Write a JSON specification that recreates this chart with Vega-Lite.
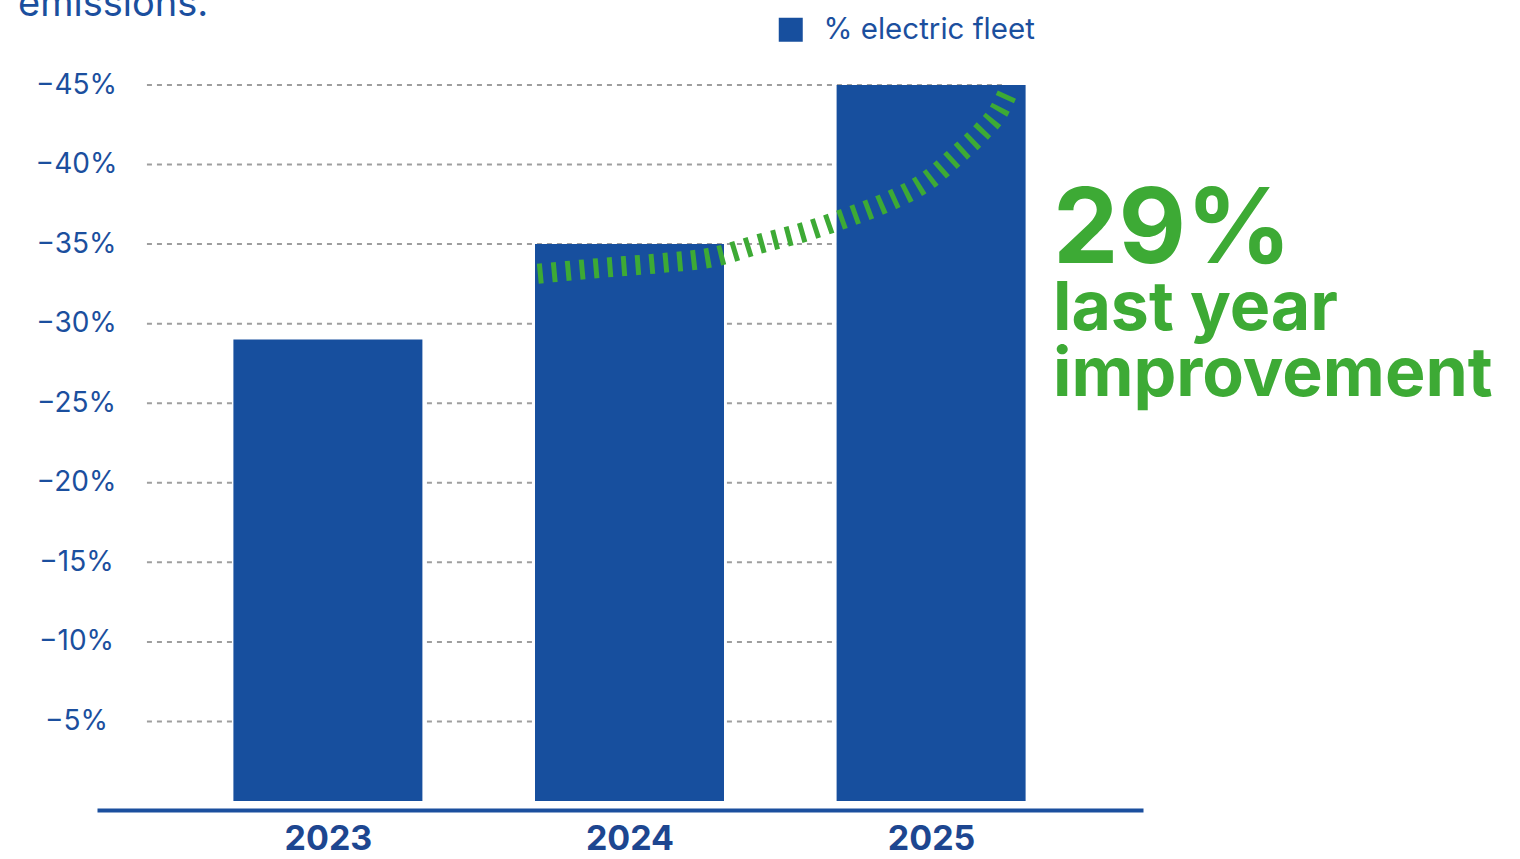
{
  "$schema": "https://vega.github.io/schema/vega-lite/v6.json",
  "autosize": "none",
  "width": 1046,
  "height": 716,
  "padding": {"left": 97, "top": 85, "right": 377, "bottom": 58},
  "background": "white",
  "title": {"text": "emissions.", "anchor": "start", "frame": "group", "fontSize": 38, "fontWeight": "normal", "font": "Inter", "color": "#1b4f9e", "dx": -79, "dy": 13},
  "config": {"view": {"stroke": null}, "font": "Inter"},
  "datasets": {
    "bars": [{"year": 2023, "value": 29}, {"year": 2024, "value": 35}, {"year": 2025, "value": 45}],
    "grid": [{"v": 5}, {"v": 10}, {"v": 15}, {"v": 20}, {"v": 25}, {"v": 30}, {"v": 35}, {"v": 40}, {"v": 45}],
    "arrow": [
      {"x": 2023.696, "y": 33.14}, {"x": 2023.903, "y": 33.5}, {"x": 2024.1, "y": 33.8}, {"x": 2024.281, "y": 34.2},
      {"x": 2024.428, "y": 35.0}, {"x": 2024.593, "y": 35.84}, {"x": 2024.724, "y": 36.69}, {"x": 2024.855, "y": 37.65},
      {"x": 2024.987, "y": 38.98}, {"x": 2025.085, "y": 40.57}, {"x": 2025.167, "y": 42.05}, {"x": 2025.226, "y": 43.41},
      {"x": 2025.256, "y": 44.6}
    ],
    "big": [{"t": "29%"}],
    "sub": [{"t": "last year\nimprovement"}]
  },
  "layer": [
    {
      "data": {"name": "grid"},
      "mark": {"type": "rule", "color": "#9e9e9e", "strokeWidth": 2, "strokeDash": [5, 5]},
      "encoding": {
        "y": {"field": "v", "type": "quantitative", "scale": {"domain": [0, 45], "nice": false, "zero": true},
          "axis": {"values": [5, 10, 15, 20, 25, 30, 35, 40, 45], "labelExpr": "'−' + datum.value + '%'", "title": null,
            "grid": false, "ticks": false, "domain": false, "labelFontSize": 28, "labelColor": "#1b4f9e",
            "labelAlign": "center", "labelPadding": 21, "labelFont": "Inter"}},
        "x": {"datum": 2022.4, "type": "quantitative", "scale": {"domain": [2022.251, 2025.686], "nice": false, "zero": false},
          "axis": {"values": [2023, 2024, 2025], "format": "d", "title": null, "grid": false, "ticks": false,
            "domain": true, "domainColor": "#1b4f9e", "domainWidth": 4, "offset": 9,
            "labelFontSize": 34, "labelFontWeight": "bold", "labelColor": "#1d4690", "labelPadding": 12, "labelFont": "Inter"}},
        "x2": {"datum": 2025.25}
      }
    },
    {
      "data": {"name": "bars"},
      "mark": {"type": "bar", "orient": "vertical", "width": 189},
      "encoding": {
        "x": {"field": "year", "type": "quantitative"},
        "y": {"field": "value", "type": "quantitative"},
        "color": {"datum": "% electric fleet", "type": "nominal", "scale": {"range": ["#174f9e"]},
          "legend": {"title": null, "orient": "none", "legendX": 679, "legendY": -70, "symbolType": "square", "symbolSize": 576,
            "symbolStrokeWidth": 0, "labelFontSize": 29.5, "labelColor": "#1b4f9e", "labelOffset": 18, "labelLimit": 0, "labelFont": "Inter"}}
      }
    },
    {
      "data": {"name": "arrow"},
      "mark": {"type": "line", "color": "#3daa35", "strokeWidth": 20, "strokeDash": [5, 9], "interpolate": "monotone", "strokeCap": "butt"},
      "encoding": {
        "x": {"field": "x", "type": "quantitative"},
        "y": {"field": "y", "type": "quantitative"}
      }
    },
    {
      "data": {"name": "big"},
      "mark": {"type": "text", "align": "left", "baseline": "alphabetic", "fontSize": 104, "fontWeight": "bold", "color": "#3daa35", "font": "Inter"},
      "encoding": {
        "text": {"field": "t"},
        "x": {"datum": 2025.404, "type": "quantitative"},
        "y": {"datum": 33.8, "type": "quantitative"}
      }
    },
    {
      "data": {"name": "sub"},
      "mark": {"type": "text", "align": "left", "baseline": "alphabetic", "fontSize": 68, "fontWeight": "bold", "color": "#3daa35", "font": "Inter", "lineBreak": "\n", "lineHeight": 66},
      "encoding": {
        "text": {"field": "t"},
        "x": {"datum": 2025.404, "type": "quantitative"},
        "y": {"datum": 29.6, "type": "quantitative"}
      }
    }
  ]
}
